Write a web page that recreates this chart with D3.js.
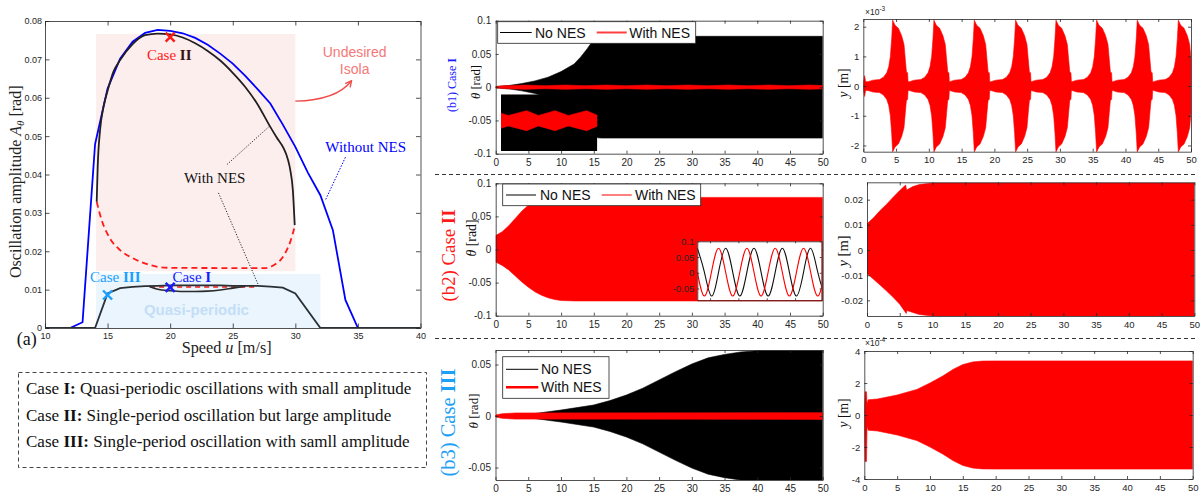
<!DOCTYPE html>
<html><head><meta charset="utf-8">
<script src="https://cdn.jsdelivr.net/npm/d3@7/dist/d3.min.js"></script>
<style>html,body{margin:0;padding:0;background:#fff;}svg{display:block;}</style>
</head><body>
<svg id="chart" width="1201" height="496"></svg>
<script>
// ================= DATA =================
// (a) amplitude vs speed
const speedWithout = [10,12,13,14,15,16,17,18,19,20,21,22,23,24,25,26,27,28,29,30,31,32,33,34,35,40];
const ampWithout   = [0,0,0.0015,0.0479,0.0624,0.0702,0.0746,0.0769,0.0777,0.0774,0.0768,0.0756,0.0738,0.0715,0.0689,0.0657,0.0622,0.0585,0.053,0.0472,0.0405,0.0346,0.0255,0.0073,0,0];
const speedStable  = [14.13,14.21,14.4,14.67,15,15.47,16,17,18,19,20,21,22,23,24,25,26,27,28,28.5,29.07,29.4,29.6,29.8,29.95];
const ampStable    = [0.0329,0.042,0.0516,0.0576,0.0618,0.0668,0.0698,0.074,0.0763,0.0767,0.0765,0.0757,0.0742,0.0722,0.0697,0.0665,0.0628,0.0582,0.0524,0.0497,0.0468,0.044,0.0411,0.036,0.0268];
const speedUnstable= [14.13,14.53,15.2,16,17.07,18.4,19.73,27.5,28.3,29.1,29.6,29.95];
const ampUnstable  = [0.0329,0.0281,0.0233,0.0203,0.0181,0.0164,0.0157,0.0156,0.0164,0.019,0.0225,0.0264];
const speedLow     = [10,14,15,16,17,18,19,20,21,22,23,24,25,26,27,28,29,30,32,40];
const ampLow       = [0,0,0.009,0.0104,0.0107,0.0109,0.011,0.0111,0.0111,0.0111,0.0111,0.0111,0.011,0.011,0.011,0.0108,0.0105,0.009,0,0];
const speedQPLower = [18.3,19,20,21,22,23,24,25,26];
const ampQPLower   = [0.0109,0.0101,0.0097,0.0095,0.0095,0.0096,0.0099,0.0104,0.0109];
const speedQPRed   = [18.4,26.8];
const ampQPRed     = [0.0107,0.0107];
const isolaSpeed = [14.08,30], isolaAmp = [0.0148,0.0766];
const quasiSpeed = [14.08,32], quasiAmp = [0,0.0141];
const caseMarkers = [
  {u:20, A:0.0758, c:"#ff1a1a"},
  {u:15, A:0.0086, c:"#1aa0ff"},
  {u:20, A:0.0106, c:"#1a1aff"}];
const speedTicks = [10,15,20,25,30,35,40];
const ampTicks = [0,0.01,0.02,0.03,0.04,0.05,0.06,0.07,0.08];

// (b) time histories  [time s, value]
const timeTicks = [0,5,10,15,20,25,30,35,40,45,50];
const b1NoNES = [[0,0.001],[2,0.0025],[4,0.0055],[6,0.0095],[8,0.015],[10,0.0235],[12,0.035],[13,0.0455],[14,0.058],[15,0.072],[15.6,0.0762],[16.2,0.0765],[50,0.0765]];
const b1WithNES = [[0,0.001],[1,0.002],[4.5,0.0032],[7.5,0.0022],[10.7,0.0032],[13.7,0.0022],[16.9,0.0032],[19.9,0.0022],[23.1,0.0032],[26.1,0.0022],[29.4,0.0032],[32.4,0.0022],[35.6,0.0032],[38.6,0.0022],[41.8,0.0032],[44.8,0.0022],[48,0.0032],[50,0.0025]];
const insetB1T    = [0,0.76,2.66,3.88,5.61,6.99,8.89,10];
const insetB1Half = [0.265,0.183,0.353,0.183,0.353,0.183,0.353,0.194];
const insetB1Center = 0.069;
// y of NES (x1e-3 m): start + repeated bursts
const b1RightStart = [[0,0.1],[0.2,0.35],[0.35,0.15]];
const burstPeaks  = [4.48,10.78,16.94,23.24,29.4,35.6,41.8,48.07];
const burstOffset = [-3.75,-3.0,-2.0,-1.4,-0.9,-0.6,-0.35,-0.15,0,0.36,0.87,1.37,1.73,1.93,2.09,2.18,2.28,2.35];
const burstAmp    = [0.15,0.2,0.22,0.3,0.45,0.65,1.0,1.6,2.22,2.05,1.95,1.7,1.4,0.9,0.5,0.45,0.45,0.15];
const b2Upper = [[0,0.021],[1,0.027],[2,0.036],[3,0.047],[4,0.058],[5,0.067],[6,0.073],[7,0.076],[8,0.078],[10,0.0787],[50,0.0787]];
const b2Lower = [[0,-0.019],[1,-0.024],[2,-0.031],[3,-0.040],[4,-0.049],[5,-0.057],[6,-0.064],[7,-0.069],[8,-0.073],[9,-0.0755],[10,-0.077],[12,-0.0777],[50,-0.0777]];
const insetB2X     = [0,0.25,0.5,0.75,1,1.25,1.5,1.75,2,2.25,2.5,2.75,3,3.25,3.5,3.75,4,4.25,4.5];
const insetB2Black = [0.078,0.002,-0.074,0.002,0.078,0.002,-0.074,0.002,0.078,0.002,-0.074,0.002,0.078,0.002,-0.074,0.002,0.078,0.002,-0.074];
const insetB2Red   = [0.002,-0.074,0.002,0.078,0.002,-0.074,0.002,0.078,0.002,-0.074,0.002,0.078,0.002,-0.074,0.002,0.078,0.002,-0.074,0.002];
const b2RightUpper = [[0,0.0104],[1,0.0128],[2,0.0157],[3,0.0182],[4,0.021],[5,0.0236],[5.9,0.0258],[6.05,0.0238],[7,0.0252],[8,0.026],[10,0.0266],[50,0.0266]];
const b2RightLower = [[0,-0.0093],[1,-0.0116],[2,-0.0139],[3,-0.0163],[4,-0.0188],[5,-0.0215],[6,-0.0252],[6.1,-0.024],[7,-0.0248],[8,-0.0256],[10,-0.0262],[50,-0.0262]];
const b3NoNES = [[0,0.0002],[5,0.0016],[10,0.0058],[15,0.0107],[17.5,0.015],[20,0.0204],[22.5,0.027],[25,0.035],[27.5,0.043],[30,0.0505],[32.5,0.0565],[35,0.0598],[37.5,0.0622],[40,0.0633],[50,0.0634]];
const b3WithNES = [[0,0.001],[1,0.0022],[3,0.003],[50,0.0033]];
// y of NES (x1e-4 m)
const b3RightUpper = [[0,0.3],[0.12,1.45],[0.33,1.45],[0.42,0.7],[0.6,0.95],[2,1.0],[5,1.25],[8,1.6],[10,2.0],[12,2.45],[13.5,2.85],[15,3.15],[16.5,3.32],[18,3.37],[20,3.38],[50,3.38]];
const b3RightLower = [[0,-0.3],[0.12,-2.9],[0.33,-2.9],[0.42,-0.7],[0.6,-0.95],[2,-1.0],[5,-1.25],[8,-1.6],[10,-2.0],[12,-2.45],[13.5,-2.85],[15,-3.15],[16.5,-3.32],[18,-3.37],[20,-3.38],[50,-3.38]];

// ================= DRAWING =================
const SANS = "'Liberation Sans', Arial, Helvetica, sans-serif";
const SERIF = "'Liberation Serif', 'Times New Roman', Times, serif";
const svg = d3.select("#chart");
const defs = svg.append("defs");
const fmt = v => String(+(+v).toFixed(4));
const AX = "#262626";

function makeAxes(id, box, xd, yd) {
  const x = d3.scaleLinear(xd, [box.l, box.r]);
  const y = d3.scaleLinear(yd, [box.b, box.t]);
  defs.append("clipPath").attr("id", id).append("rect")
    .attr("x", box.l).attr("y", box.t).attr("width", box.r - box.l).attr("height", box.b - box.t);
  const plot = svg.append("g").attr("clip-path", `url(#${id})`);
  return {x, y, plot, box};
}
function frame(ax, o) {
  const g = svg.append("g");
  const tl = o.tl;
  const st = sel => {
    sel.attr("font-family", SANS).attr("font-size", o.fs);
    sel.selectAll(".domain").attr("stroke", AX).attr("stroke-width", 0.8);
    sel.selectAll(".tick line").attr("stroke", AX).attr("stroke-width", 0.8);
    sel.selectAll(".tick text").attr("fill", AX);
  };
  g.append("g").attr("transform", `translate(0,${ax.box.b})`)
    .call(d3.axisBottom(ax.x).tickValues(o.xt).tickSizeInner(-tl).tickSizeOuter(0).tickPadding(o.xpad).tickFormat(o.noX ? () => "" : fmt)).call(st);
  g.append("g").attr("transform", `translate(0,${ax.box.t})`)
    .call(d3.axisTop(ax.x).tickValues(o.xt).tickSizeInner(-tl).tickSizeOuter(0).tickFormat(() => "")).call(st);
  g.append("g").attr("transform", `translate(${ax.box.l},0)`)
    .call(d3.axisLeft(ax.y).tickValues(o.yt).tickSizeInner(-tl).tickSizeOuter(0).tickPadding(o.ypad).tickFormat(fmt)).call(st);
  g.append("g").attr("transform", `translate(${ax.box.r},0)`)
    .call(d3.axisRight(ax.y).tickValues(o.yt).tickSizeInner(-tl).tickSizeOuter(0).tickFormat(() => "")).call(st);
  return g;
}
function band(ax, upper, lower, fill) {
  const pts = upper.concat(lower.slice().reverse());
  ax.plot.append("path")
    .attr("d", d3.line().x(d => ax.x(d[0])).y(d => ax.y(d[1]))(pts) + "Z")
    .attr("fill", fill).attr("stroke", fill).attr("stroke-width", 0.6);
}
const mirror = arr => arr.map(d => [d[0], -d[1]]);
function fit(sel, target) {
  const L = sel.node().getComputedTextLength();
  const fs = parseFloat(sel.attr("font-size"));
  if (L > 0) sel.attr("font-size", (fs * target / L).toFixed(2));
}
function rich(parent, parts) {
  parts.forEach(p => {
    const t = parent.append("tspan").text(p.t);
    if (p.b) t.attr("font-weight", "bold");
    if (p.i) t.attr("font-style", "italic");
    if (p.c) t.attr("fill", p.c);
  });
  return parent;
}

// ---------- (a) ----------
const A = makeAxes("clipA", {l:45, r:420.5, t:21, b:328}, [10,40], [0,0.08]);
A.plot.append("rect").attr("x", A.x(isolaSpeed[0])).attr("width", A.x(isolaSpeed[1]) - A.x(isolaSpeed[0]))
  .attr("y", A.y(isolaAmp[1])).attr("height", A.y(isolaAmp[0]) - A.y(isolaAmp[1])).attr("fill", "#fdeeee");
A.plot.append("rect").attr("x", A.x(quasiSpeed[0])).attr("width", A.x(quasiSpeed[1]) - A.x(quasiSpeed[0]))
  .attr("y", A.y(quasiAmp[1])).attr("height", A.y(quasiAmp[0]) - A.y(quasiAmp[1])).attr("fill", "#eaf5fd");
A.plot.append("text").attr("x", A.x(22.1)).attr("y", A.y(0.0034)).attr("text-anchor", "middle")
  .attr("font-family", SANS).attr("font-weight", "bold").attr("font-size", 15).attr("fill", "#c4def7").text("Quasi-periodic");
const lineA = (xs, ys, curve) => d3.line().x((d, i) => A.x(xs[i])).y((d, i) => A.y(ys[i])).curve(curve || d3.curveLinear)(xs);
A.plot.append("path").attr("d", lineA(speedQPRed, ampQPRed)).attr("fill", "none").attr("stroke", "#ff1a1a").attr("stroke-width", 1.6).attr("stroke-dasharray", "5,4");
A.plot.append("path").attr("d", lineA(speedWithout, ampWithout)).attr("fill", "none").attr("stroke", "#0000ff").attr("stroke-width", 1.8);
A.plot.append("path").attr("d", lineA(speedUnstable, ampUnstable, d3.curveMonotoneX)).attr("fill", "none").attr("stroke", "#ff1a1a").attr("stroke-width", 1.8).attr("stroke-dasharray", "6,4");
A.plot.append("path").attr("d", lineA(speedStable, ampStable, d3.curveMonotoneX)).attr("fill", "none").attr("stroke", "#231f20").attr("stroke-width", 1.8);
A.plot.append("path").attr("d", lineA(speedQPLower, ampQPLower, d3.curveMonotoneX)).attr("fill", "none").attr("stroke", "#2b2b2b").attr("stroke-width", 1.6);
A.plot.append("path").attr("d", lineA(speedLow, ampLow)).attr("fill", "none").attr("stroke", "#2b3035").attr("stroke-width", 1.8);

// annotations (data coordinates)
const annG = svg.append("g");
[[24.54,0.0426,27.94,0.0526],[23.86,0.0352,27.06,0.0111]].forEach(p => {
  annG.append("line").attr("x1", A.x(p[0])).attr("y1", A.y(p[1])).attr("x2", A.x(p[2])).attr("y2", A.y(p[3]))
    .attr("stroke", "#111").attr("stroke-width", 0.9).attr("stroke-dasharray", "1.2,1.6");
});
annG.append("text").attr("x", A.x(23.56)).attr("y", A.y(0.0378)).attr("text-anchor", "middle")
  .attr("font-family", SERIF).attr("font-size", 15).attr("fill", "#111").text("With NES");
annG.append("line").attr("x1", A.x(34)).attr("y1", A.y(0.0445)).attr("x2", A.x(32.4)).attr("y2", A.y(0.0333))
  .attr("stroke", "#0000ff").attr("stroke-width", 1).attr("stroke-dasharray", "1.5,1.5");
annG.append("text").attr("x", A.x(32.4)).attr("y", A.y(0.0458))
  .attr("font-family", SERIF).attr("font-size", 15).attr("fill", "#0000ff").text("Without NES");
annG.append("text").attr("x", A.x(34.74)).attr("y", A.y(0.0707)).attr("text-anchor", "middle")
  .attr("font-family", SANS).attr("font-size", 14).attr("fill", "#f57878").text("Undesired");
annG.append("text").attr("x", A.x(34.74)).attr("y", A.y(0.0661)).attr("text-anchor", "middle")
  .attr("font-family", SANS).attr("font-size", 14).attr("fill", "#f57878").text("Isola");
defs.append("marker").attr("id", "arrowR").attr("viewBox", "0 0 10 10").attr("refX", 8).attr("refY", 5)
  .attr("markerWidth", 6).attr("markerHeight", 6).attr("orient", "auto")
  .append("path").attr("d", "M1,1 L9,5 L1,9").attr("fill", "none").attr("stroke", "#f04a4a").attr("stroke-width", 1.8);
annG.append("path")
  .attr("d", `M${A.x(30)},${A.y(0.0591)} Q${A.x(33.3)},${A.y(0.0594)} ${A.x(34.45)},${A.y(0.0643)}`)
  .attr("fill", "none").attr("stroke", "#f04a4a").attr("stroke-width", 1.3).attr("marker-end", "url(#arrowR)");
// case labels
const c2 = annG.append("text").attr("x", A.x(18.14)).attr("y", A.y(0.0698)).attr("font-family", SERIF).attr("font-size", 15);
rich(c2, [{t:"Case ", c:"#ff1a1a"}, {t:"II", b:true, c:"#3a1010"}]);
const c3 = annG.append("text").attr("x", A.x(13.6)).attr("y", A.y(0.0121)).attr("font-family", SERIF).attr("font-size", 15);
rich(c3, [{t:"Case ", c:"#1aa0ff"}, {t:"III", b:true, c:"#1aa0ff"}]);
const c1 = annG.append("text").attr("x", A.x(20.18)).attr("y", A.y(0.0121)).attr("font-family", SERIF).attr("font-size", 15);
rich(c1, [{t:"Case ", c:"#1a1aff"}, {t:"I", b:true, c:"#1a1aff"}]);
caseMarkers.forEach(m => {
  annG.append("path").attr("transform", `translate(${A.x(m.u)},${A.y(m.A)})`)
    .attr("d", "M-4.5,-4.5L4.5,4.5M-4.5,4.5L4.5,-4.5").attr("stroke", m.c).attr("stroke-width", 2.4).attr("fill", "none");
});
frame(A, {xt: speedTicks, yt: ampTicks, tl: 4.5, fs: 9, xpad: 5, ypad: 3});
// axis labels (a)
const ylab = svg.append("text").attr("transform", "translate(21,181.7) rotate(-90)").attr("text-anchor", "middle")
  .attr("font-family", SERIF).attr("font-size", 16).attr("fill", "#222");
ylab.append("tspan").text("Oscillation amplitude ");
ylab.append("tspan").attr("font-style", "italic").text("A");
ylab.append("tspan").attr("font-style", "italic").attr("font-size", 11).attr("dy", 3).text("θ");
ylab.append("tspan").attr("dy", -3).text(" [rad]");
const xlab = svg.append("text").attr("x", 226.7).attr("y", 353).attr("text-anchor", "middle")
  .attr("font-family", SERIF).attr("font-size", 16).attr("fill", "#222");
rich(xlab, [{t:"Speed "}, {t:"u", i:true}, {t:" [m/s]"}]);
fit(xlab, 90);
svg.append("text").attr("x", 16.7).attr("y", 345).attr("font-family", SERIF).attr("font-size", 18).attr("fill", "#111").text("(a)");

// description box
svg.append("rect").attr("x", 18.5).attr("y", 372.5).attr("width", 408).attr("height", 95)
  .attr("fill", "none").attr("stroke", "#444").attr("stroke-width", 1).attr("stroke-dasharray", "4,3");
const boxLines = [
  ["Case ", "I:", " Quasi-periodic oscillations with small amplitude"],
  ["Case ", "II:", " Single-period oscillation but large amplitude"],
  ["Case ", "III:", " Single-period oscillation with samll amplitude"]];
const boxY = [394.3, 420.5, 446.5];
const boxTexts = boxLines.map((ln, i) => {
  const t = svg.append("text").attr("x", 26).attr("y", boxY[i]).attr("font-family", SERIF).attr("font-size", 16).attr("fill", "#111");
  rich(t, [{t: ln[0]}, {t: ln[1], b: true}, {t: ln[2]}]);
  return t;
});
{
  const L = boxTexts[0].node().getComputedTextLength();
  const fs = (16 * 385.7 / L).toFixed(2);
  boxTexts.forEach(t => t.attr("font-size", fs));
}

// separators
[174.5, 338.5].forEach(yy => svg.append("line").attr("x1", 435).attr("x2", 1197).attr("y1", yy).attr("y2", yy)
  .attr("stroke", "#333").attr("stroke-width", 1).attr("stroke-dasharray", "4,3"));

// helpers for labels of (b)
function caseLabel(x, yc, parts, target, color) {
  const t = svg.append("text").attr("transform", `translate(${x},${yc}) rotate(-90)`).attr("text-anchor", "middle")
    .attr("font-family", SERIF).attr("font-size", 16).attr("fill", color);
  rich(t, parts);
  fit(t, target);
}
function thetaLabel(x, yc, target) {
  const t = svg.append("text").attr("transform", `translate(${x},${yc}) rotate(-90)`).attr("text-anchor", "middle")
    .attr("font-family", SERIF).attr("font-size", 14).attr("fill", "#111");
  rich(t, [{t:"θ", i:true}, {t:" [rad]"}]);
  fit(t, target);
}
function yLabel(x, yc, target) {
  const t = svg.append("text").attr("transform", `translate(${x},${yc}) rotate(-90)`).attr("text-anchor", "middle")
    .attr("font-family", SERIF).attr("font-size", 14).attr("fill", "#111");
  rich(t, [{t:"y", i:true}, {t:" [m]"}]);
  fit(t, target);
}
function multiplier(x, y, exp) {
  const t = svg.append("text").attr("x", x).attr("y", y).attr("font-family", SANS).attr("font-size", 8.5).attr("fill", AX);
  t.append("tspan").text("×10");
  t.append("tspan").attr("font-size", 6.5).attr("dy", -4).text(exp);
}
function legendBox(x, y, w, h) {
  svg.append("rect").attr("x", x).attr("y", y).attr("width", w).attr("height", h).attr("fill", "#fff").attr("stroke", AX).attr("stroke-width", 0.8);
}
function legendItem(x1, x2, y, color, sw, label, tx) {
  svg.append("line").attr("x1", x1).attr("x2", x2).attr("y1", y).attr("y2", y).attr("stroke", color).attr("stroke-width", sw);
  svg.append("text").attr("x", tx).attr("y", y + 5).attr("font-family", SANS).attr("font-size", 14).attr("fill", "#111").text(label);
}
const midFrame = {xt: timeTicks, tl: 3, fs: 10, xpad: 5, ypad: 4.5};
const rightFrame = {xt: timeTicks, tl: 3, fs: 9.5, xpad: 5, ypad: 4};

// ---------- (b1) ----------
const B1 = makeAxes("clipB1", {l:495.7, r:822.7, t:20.7, b:153.7}, [0,50], [-0.1,0.1]);
band(B1, b1NoNES, mirror(b1NoNES), "#000");
band(B1, b1WithNES, mirror(b1WithNES), "#ff0000");
frame(B1, Object.assign({yt: [-0.1,-0.05,0,0.05,0.1]}, midFrame));
// inset b1
const IB1 = makeAxes("clipIB1", {l:501, r:597.3, t:94.3, b:151}, [0,10], [-1,1]);
IB1.plot.append("rect").attr("x", 501).attr("y", 94.3).attr("width", 96.3).attr("height", 56.7).attr("fill", "#000");
band(IB1, insetB1T.map((t, i) => [t, insetB1Center + insetB1Half[i]]), insetB1T.map((t, i) => [t, insetB1Center - insetB1Half[i]]), "#ff0000");
legendBox(497.7, 21.7, 198, 21.6);
legendItem(500, 531.7, 32.5, "#000", 1, "No NES", 535);
legendItem(596.7, 626.7, 32.5, "#ff4040", 2, "With NES", 629.3);
caseLabel(456, 85, [{t:"(b1) Case "}, {t:"I", b:true}], 54, "#1a1aff");
thetaLabel(480, 82, 34);

// ---------- (b1 right) ----------
const B1R = makeAxes("clipB1R", {l:863.3, r:1191, t:19, b:151.7}, [0,50], [-2.21,2.26]);
const b1RightUpper = b1RightStart.concat(...burstPeaks.map(p => burstOffset.map((o, i) => [p + o, burstAmp[i]])));
band(B1R, b1RightUpper, mirror(b1RightUpper), "#ff0000");
frame(B1R, Object.assign({yt: [-2,-1,0,1,2]}, rightFrame));
multiplier(865, 15, "-3");
yLabel(848, 83, 29);

// ---------- (b2) ----------
const B2 = makeAxes("clipB2", {l:495.7, r:822.7, t:183.3, b:315.7}, [0,50], [-0.1,0.1]);
band(B2, b2Upper, b2Lower, "#ff0000");
frame(B2, Object.assign({yt: [-0.1,-0.05,0,0.05,0.1]}, midFrame));
legendBox(502.7, 184, 198, 21.7);
legendItem(506, 536, 195, "#000", 1, "No NES", 540);
legendItem(601.7, 631.7, 195, "#ff0000", 1, "With NES", 635);
// inset b2
const IB2 = makeAxes("clipIB2", {l:697.3, r:821.7, t:241.3, b:300.3}, [0,4.39], [-0.0875,0.1]);
IB2.plot.append("rect").attr("x", 697.3).attr("y", 241.3).attr("width", 124.4).attr("height", 59).attr("fill", "#fff");
const lineIB2 = ys => d3.line().x((d, i) => IB2.x(insetB2X[i])).y((d, i) => IB2.y(ys[i])).curve(d3.curveNatural)(insetB2X);
IB2.plot.append("path").attr("d", lineIB2(insetB2Black)).attr("fill", "none").attr("stroke", "#111").attr("stroke-width", 1.1);
IB2.plot.append("path").attr("d", lineIB2(insetB2Red)).attr("fill", "none").attr("stroke", "#ff0000").attr("stroke-width", 1.1);
frame(IB2, {xt: [0.45,1.45,2.45,3.45], yt: [-0.05,0,0.05,0.1], tl: 2, fs: 9.5, xpad: 2, ypad: 3, noX: true});
caseLabel(455, 255.5, [{t:"(b2) Case "}, {t:"II", b:true}], 92, "#ff1a1a");
thetaLabel(476, 238, 37);

// ---------- (b2 right) ----------
const B2R = makeAxes("clipB2R", {l:867, r:1194.3, t:182.3, b:316}, [0,50], [-0.0262,0.0269]);
band(B2R, b2RightUpper, b2RightLower, "#ff0000");
frame(B2R, Object.assign({yt: [-0.02,-0.01,0,0.01,0.02]}, rightFrame));
yLabel(848, 251, 31);

// ---------- (b3) ----------
const B3 = makeAxes("clipB3", {l:495.5, r:822.7, t:350, b:480}, [0,50], [-0.0621,0.0641]);
band(B3, b3NoNES, mirror(b3NoNES), "#000");
band(B3, b3WithNES, mirror(b3WithNES), "#ff0000");
frame(B3, Object.assign({yt: [-0.05,0,0.05]}, midFrame));
legendBox(502.7, 356.7, 106.3, 41.6);
legendItem(506, 538.3, 369.3, "#000", 1, "No NES", 541);
legendItem(506, 538.3, 387.3, "#ff0000", 2.5, "With NES", 541);
caseLabel(455, 422.5, [{t:"(b3) Case "}, {t:"III", b:true}], 108, "#1ea0f5");
thetaLabel(478, 411, 35);

// ---------- (b3 right) ----------
const B3R = makeAxes("clipB3R", {l:864.3, r:1192.7, t:351, b:479}, [0,50], [-4,4]);
band(B3R, b3RightUpper, b3RightLower, "#ff0000");
frame(B3R, Object.assign({yt: [-4,-2,0,2,4]}, rightFrame));
multiplier(865, 346, "-4");
yLabel(848, 413, 29);
</script></body></html>
